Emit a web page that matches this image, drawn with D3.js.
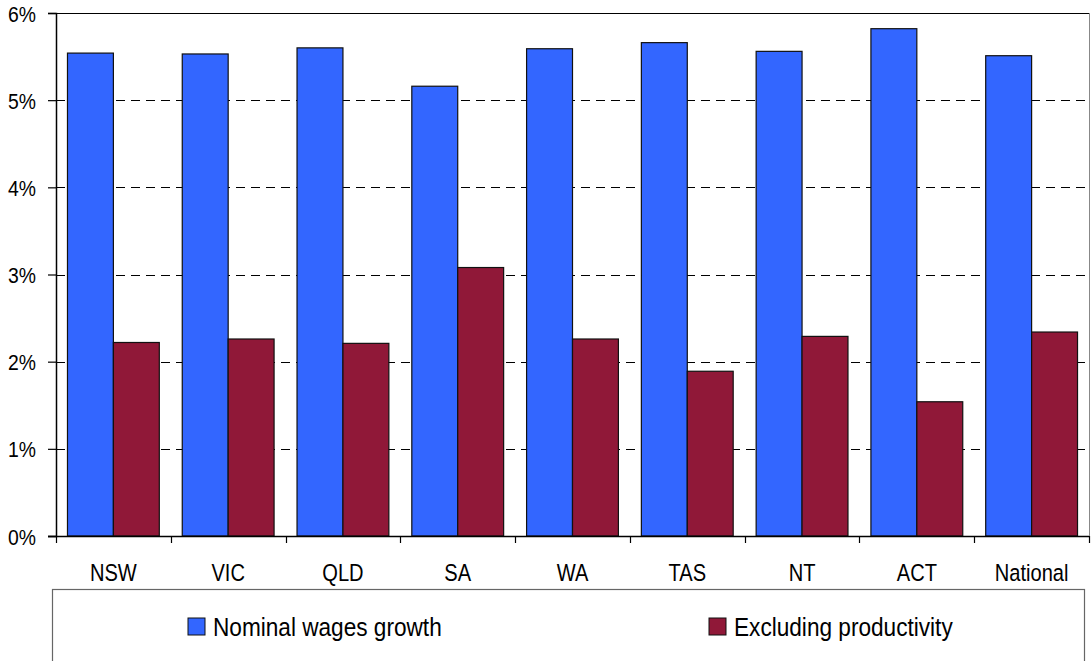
<!DOCTYPE html>
<html>
<head>
<meta charset="utf-8">
<script src="https://cdn.jsdelivr.net/npm/d3@7"></script>
<style>
  body { margin: 0; background: #fff; }
  svg { display: block; font-family: "Liberation Sans", Arial, sans-serif; }
</style>
</head>
<body>
<div id="chart"></div>
<script>
// Chart data
const categories = ['NSW', 'VIC', 'QLD', 'SA', 'WA', 'TAS', 'NT', 'ACT', 'National'];
const seriesNames = ['Nominal wages growth', 'Excluding productivity'];
const nominalGrowth = [0.0554, 0.0553, 0.0560, 0.0516, 0.0559, 0.0566, 0.0556, 0.0582, 0.0551];
const exclProductivity = [0.0222, 0.0226, 0.0221, 0.0308, 0.0226, 0.0189, 0.0229, 0.0154, 0.0234];
const yTicks = [0, 0.01, 0.02, 0.03, 0.04, 0.05, 0.06];
const colors = ['#3366FF', '#901838'];

const width = 1091, height = 661;
const plot = { left: 56, right: 1089, top: 13, bottom: 536 };

const svg = d3.select('#chart')
    .append('svg')
    .attr('width', width)
    .attr('height', height);

const x = d3.scaleBand()
    .domain(categories)
    .range([plot.left, plot.right])
    .paddingInner(0.2)
    .paddingOuter(0.1);

const xInner = d3.scaleBand()
    .domain(seriesNames)
    .range([0, x.bandwidth()]);

const y = d3.scaleLinear()
    .domain([0, 0.06])
    .range([plot.bottom, plot.top]);

// Gridlines (dashed)
svg.append('g')
    .selectAll('line')
    .data(yTicks.filter(t => t > 0 && t < 0.06))
    .enter()
    .append('line')
    .attr('x1', plot.left)
    .attr('x2', plot.right)
    .attr('y1', d => Math.round(y(d)) + 0.5)
    .attr('y2', d => Math.round(y(d)) + 0.5)
    .attr('stroke', '#000')
    .attr('stroke-width', 1)
    .attr('stroke-dasharray', '9,6');

// Plot border: top solid, right gray
svg.append('line')
    .attr('x1', plot.left).attr('x2', plot.right)
    .attr('y1', plot.top + 0.5).attr('y2', plot.top + 0.5)
    .attr('stroke', '#000').attr('stroke-width', 1.2);
svg.append('line')
    .attr('x1', plot.right + 0.5).attr('x2', plot.right + 0.5)
    .attr('y1', plot.top).attr('y2', plot.bottom)
    .attr('stroke', '#888').attr('stroke-width', 1);

// Bars
const rows = categories.map((c, i) => ({ cat: c, values: [nominalGrowth[i], exclProductivity[i]] }));

const groups = svg.append('g')
    .selectAll('g')
    .data(rows)
    .enter()
    .append('g')
    .attr('transform', d => `translate(${x(d.cat)},0)`);

groups.selectAll('rect')
    .data(d => d.values.map((v, j) => ({ v, s: seriesNames[j], j })))
    .enter()
    .append('rect')
    .attr('x', d => xInner(d.s))
    .attr('width', xInner.bandwidth())
    .attr('y', d => y(d.v))
    .attr('height', d => y(0) - y(d.v))
    .attr('fill', d => colors[d.j])
    .attr('stroke', '#111')
    .attr('stroke-width', 1.2);

// Y axis
const yAxis = svg.append('g')
    .attr('transform', `translate(${plot.left},0)`)
    .call(d3.axisLeft(y).tickValues(yTicks).tickFormat(d3.format('.0%')).tickSize(8).tickPadding(0));
yAxis.select('.domain').attr('stroke', '#000').attr('stroke-width', 1.5);
yAxis.selectAll('.tick line').attr('stroke', '#000').attr('stroke-width', 1.2);
yAxis.selectAll('.tick text')
    .attr('x', null)
    .attr('dy', null)
    .attr('text-anchor', 'end')
    .style('font-size', '22px')
    .attr('fill', '#000')
    .attr('transform', 'translate(-20,8) scale(0.88,1)');

// X axis
const xAxis = svg.append('g')
    .attr('transform', `translate(0,${plot.bottom})`)
    .call(d3.axisBottom(x).tickSize(0).tickPadding(0));
xAxis.select('.domain').remove();
svg.append('line')
    .attr('x1', plot.left - 8).attr('x2', plot.right)
    .attr('y1', plot.bottom + 0.5).attr('y2', plot.bottom + 0.5)
    .attr('stroke', '#000').attr('stroke-width', 1.5);
const boundaries = categories.map(c => x(c) - x.step() * x.paddingInner() / 2)
    .concat([plot.right]);
boundaries[0] = plot.left;
svg.append('g')
    .selectAll('line')
    .data(boundaries)
    .enter()
    .append('line')
    .attr('x1', d => Math.round(d) + 0.5)
    .attr('x2', d => Math.round(d) + 0.5)
    .attr('y1', plot.bottom)
    .attr('y2', plot.bottom + 7)
    .attr('stroke', '#000')
    .attr('stroke-width', 1.2);
xAxis.selectAll('.tick text')
    .attr('y', null)
    .attr('dy', null)
    .style('font-size', '24.5px')
    .attr('fill', '#000')
    .attr('transform', 'translate(0,45) scale(0.82,1)');

// Legend
const legend = svg.append('g');
legend.append('rect')
    .attr('x', 52.5).attr('y', 589.5)
    .attr('width', 1032).attr('height', 90)
    .attr('fill', '#fff')
    .attr('stroke', '#666')
    .attr('stroke-width', 1.2);

const legendX = [188, 709];
const items = legend.selectAll('g.item')
    .data(seriesNames)
    .enter()
    .append('g')
    .attr('class', 'item')
    .attr('transform', (d, i) => `translate(${legendX[i]},618)`);
items.append('rect')
    .attr('width', 17).attr('height', 17)
    .attr('fill', (d, i) => colors[i])
    .attr('stroke', '#111')
    .attr('stroke-width', 1);
items.append('text')
    .attr('transform', 'translate(25,18) scale(0.87,1)')
    .style('font-size', '26px')
    .attr('fill', '#000')
    .text(d => d);
</script>
</body>
</html>
